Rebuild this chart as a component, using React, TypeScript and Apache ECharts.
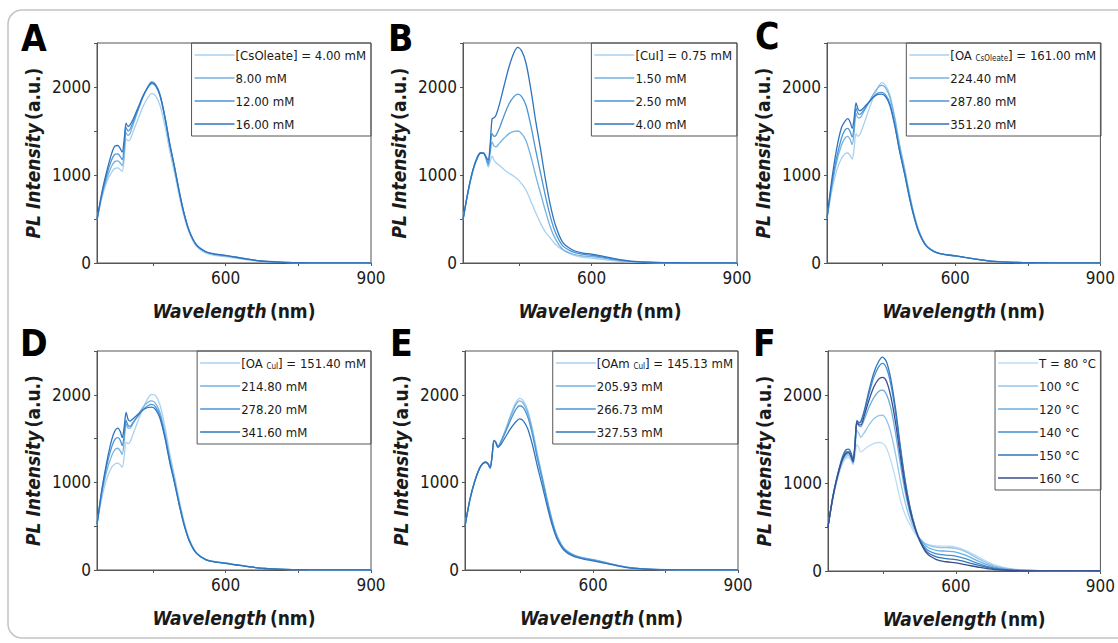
import React, { useEffect, useRef } from 'react';
import * as echarts from 'echarts';

// ---------- data ----------
const wavelengths = [335, 345, 355, 365, 372, 378, 383, 387, 391, 395, 399, 403, 410, 420, 430, 440, 448, 456, 465, 475, 485, 495, 505, 515, 525, 540, 560, 580, 600, 620, 650, 680, 720, 770, 830, 900];

const xTicks = [450, 600, 750, 900];
const xLabels = [600, 900];

const namesA = ['[CsOleate] = 4.00 mM', '8.00 mM', '12.00 mM', '16.00 mM'];
const a0 = [490, 740, 920, 1030, 1075, 1080, 1060, 1040, 1180, 1410, 1390, 1400, 1500, 1640, 1780, 1880, 1925, 1900, 1790, 1560, 1270, 1020, 750, 520, 345, 190, 112, 85, 72, 56, 33, 16, 6, 2, 1, 0];
const a1 = [490, 760, 960, 1100, 1155, 1160, 1135, 1105, 1250, 1480, 1450, 1470, 1580, 1740, 1890, 2005, 2060, 2030, 1915, 1670, 1360, 1090, 805, 555, 370, 205, 122, 95, 80, 63, 38, 18, 7, 3, 1, 0];
const a2 = [490, 780, 1000, 1170, 1235, 1240, 1210, 1175, 1320, 1540, 1500, 1520, 1610, 1750, 1890, 1995, 2040, 2010, 1900, 1650, 1345, 1080, 795, 550, 365, 205, 125, 98, 84, 66, 40, 19, 8, 3, 1, 0];
const a3 = [490, 800, 1040, 1240, 1330, 1335, 1300, 1260, 1400, 1590, 1550, 1570, 1640, 1770, 1900, 2000, 2050, 2020, 1905, 1660, 1350, 1085, 800, 552, 368, 205, 128, 100, 86, 68, 40, 20, 8, 3, 1, 0];

const namesB = ['[CuI] = 0.75 mM', '1.50 mM', '2.50 mM', '4.00 mM'];
const b0 = [490, 790, 1030, 1200, 1250, 1245, 1170, 1090, 1150, 1215, 1170, 1140, 1110, 1060, 1020, 985, 950, 900, 830, 700, 570, 450, 350, 285, 215, 150, 95, 68, 55, 42, 25, 12, 5, 2, 1, 0];
const b1 = [490, 800, 1040, 1210, 1255, 1250, 1180, 1110, 1250, 1375, 1330, 1320, 1360, 1420, 1470, 1495, 1500, 1470, 1390, 1210, 990, 790, 590, 410, 280, 160, 105, 82, 72, 58, 33, 16, 6, 2, 1, 0];
const b2 = [490, 800, 1050, 1210, 1255, 1250, 1190, 1130, 1300, 1470, 1440, 1450, 1530, 1680, 1810, 1890, 1920, 1890, 1790, 1560, 1280, 1020, 760, 530, 355, 200, 130, 100, 88, 70, 40, 19, 8, 3, 1, 0];
const b3 = [490, 800, 1050, 1200, 1250, 1245, 1200, 1170, 1350, 1640, 1650, 1680, 1800, 2020, 2230, 2390, 2450, 2410, 2270, 1970, 1610, 1290, 950, 660, 440, 240, 150, 115, 100, 80, 46, 22, 9, 3, 1, 0];

const namesC = ['[OA CsOleate] = 161.00 mM', '224.40 mM', '287.80 mM', '351.20 mM'];
const c0 = [510, 820, 1050, 1190, 1240, 1250, 1220, 1180, 1300, 1470, 1440, 1460, 1560, 1720, 1870, 1990, 2050, 2020, 1910, 1660, 1350, 1090, 800, 555, 370, 205, 125, 98, 83, 65, 39, 19, 7, 3, 1, 0];
const c1 = [510, 870, 1150, 1340, 1420, 1440, 1400, 1345, 1480, 1700, 1650, 1650, 1710, 1810, 1910, 1990, 2020, 1990, 1880, 1640, 1330, 1070, 790, 545, 360, 200, 122, 96, 81, 64, 38, 18, 7, 3, 1, 0];
const c2 = [510, 900, 1200, 1420, 1510, 1530, 1490, 1430, 1560, 1760, 1700, 1690, 1730, 1810, 1880, 1930, 1940, 1910, 1810, 1575, 1280, 1030, 760, 525, 350, 195, 120, 95, 80, 63, 38, 18, 7, 3, 1, 0];
const c3 = [510, 950, 1300, 1540, 1610, 1640, 1600, 1530, 1640, 1820, 1750, 1730, 1760, 1820, 1880, 1915, 1920, 1890, 1790, 1560, 1270, 1020, 750, 520, 345, 195, 120, 95, 80, 63, 38, 18, 7, 3, 1, 0];

const namesD = ['[OA CuI] = 151.40 mM', '214.80 mM', '278.20 mM', '341.60 mM'];
const d0 = [520, 820, 1040, 1170, 1210, 1220, 1200, 1175, 1290, 1460, 1440, 1460, 1560, 1710, 1850, 1960, 2005, 1990, 1880, 1640, 1330, 1070, 790, 545, 360, 200, 120, 94, 80, 62, 37, 18, 7, 3, 1, 0];
const d1 = [520, 870, 1130, 1300, 1375, 1390, 1360, 1320, 1470, 1670, 1620, 1620, 1680, 1770, 1860, 1915, 1930, 1900, 1795, 1565, 1275, 1020, 755, 520, 345, 195, 118, 92, 78, 61, 37, 17, 7, 3, 1, 0];
const d2 = [520, 900, 1190, 1400, 1490, 1510, 1480, 1420, 1540, 1710, 1650, 1640, 1690, 1760, 1830, 1875, 1890, 1860, 1760, 1530, 1250, 1000, 740, 510, 340, 192, 116, 91, 77, 60, 36, 17, 7, 3, 1, 0];
const d3 = [520, 920, 1230, 1480, 1590, 1620, 1580, 1510, 1630, 1800, 1720, 1700, 1730, 1780, 1830, 1855, 1860, 1830, 1730, 1510, 1230, 990, 730, 505, 335, 190, 115, 90, 76, 60, 36, 17, 7, 3, 1, 0];

const namesE = ['[OAm CuI] = 145.13 mM', '205.93 mM', '266.73 mM', '327.53 mM'];
const e0 = [500, 800, 1010, 1160, 1215, 1230, 1210, 1165, 1300, 1480, 1460, 1410, 1480, 1620, 1780, 1910, 1960, 1930, 1820, 1600, 1320, 1070, 810, 580, 400, 250, 175, 140, 120, 95, 55, 25, 9, 3, 1, 0];
const e1 = [500, 800, 1010, 1160, 1215, 1230, 1210, 1165, 1300, 1480, 1460, 1410, 1475, 1610, 1760, 1885, 1930, 1900, 1790, 1575, 1300, 1055, 800, 570, 395, 245, 170, 137, 118, 93, 54, 24, 9, 3, 1, 0];
const e2 = [500, 800, 1010, 1160, 1215, 1230, 1210, 1165, 1300, 1480, 1455, 1405, 1470, 1590, 1720, 1830, 1875, 1850, 1745, 1535, 1265, 1030, 780, 555, 385, 240, 165, 133, 113, 89, 52, 23, 8, 3, 1, 0];
const e3 = [500, 800, 1010, 1160, 1215, 1230, 1210, 1165, 1300, 1475, 1450, 1400, 1440, 1530, 1620, 1690, 1725, 1700, 1610, 1420, 1180, 960, 730, 520, 360, 225, 155, 125, 105, 82, 48, 21, 8, 3, 1, 0];

const namesF = ['T = 80 °C', '100 °C', '120 °C', '140 °C', '150 °C', '160 °C'];
const f0 = [500, 820, 1050, 1220, 1280, 1290, 1255, 1210, 1310, 1440, 1400, 1350, 1380, 1420, 1450, 1460, 1455, 1400, 1260, 1050, 810, 640, 525, 430, 360, 305, 285, 282, 272, 235, 150, 70, 22, 6, 1, 0];
const f1 = [500, 830, 1070, 1240, 1300, 1310, 1270, 1220, 1380, 1600, 1560, 1520, 1570, 1660, 1730, 1765, 1770, 1720, 1580, 1330, 1030, 780, 590, 460, 370, 300, 270, 265, 258, 220, 130, 58, 18, 5, 1, 0];
const f2 = [500, 830, 1080, 1260, 1320, 1330, 1290, 1235, 1420, 1680, 1650, 1640, 1720, 1860, 1970, 2040, 2055, 2010, 1860, 1570, 1220, 900, 660, 490, 370, 275, 235, 225, 215, 180, 105, 45, 14, 4, 1, 0];
const f3 = [500, 840, 1090, 1280, 1350, 1360, 1320, 1250, 1440, 1700, 1680, 1690, 1800, 2010, 2200, 2320, 2360, 2310, 2130, 1800, 1390, 1010, 720, 510, 360, 245, 195, 180, 170, 140, 80, 33, 10, 3, 1, 0];
const f4 = [500, 850, 1100, 1300, 1375, 1385, 1340, 1260, 1450, 1710, 1690, 1700, 1820, 2050, 2250, 2380, 2430, 2380, 2190, 1850, 1420, 1030, 730, 510, 355, 220, 160, 140, 130, 105, 60, 25, 8, 2, 1, 0];
const f5 = [500, 830, 1080, 1270, 1335, 1345, 1300, 1240, 1430, 1690, 1660, 1660, 1760, 1940, 2090, 2180, 2200, 2160, 1990, 1690, 1310, 960, 690, 490, 345, 200, 130, 105, 92, 72, 40, 16, 5, 2, 1, 0];

// ---------- styling ----------
const FONT = '"DejaVu Sans Condensed", "Liberation Sans Narrow", "Liberation Sans", sans-serif';
const COLORS4 = ['#a9d0ef', '#74b2e2', '#4c95d3', '#2f74bd'];
const COLORS6 = ['#bcdcf3', '#94c6eb', '#6baee0', '#428fd2', '#3174b8', '#3c4d8c'];
const W = 1118;
const H = 643;

const panels = [
  { letter: 'A', lx: 21, ly: 38, names: namesA, series: [a0, a1, a2, a3], colors: COLORS4, g: { left: 97, top: 43, width: 274, height: 220 } },
  { letter: 'B', lx: 388, ly: 38, names: namesB, series: [b0, b1, b2, b3], colors: COLORS4, g: { left: 463, top: 43, width: 274, height: 220 } },
  { letter: 'C', lx: 755, ly: 36, names: namesC, series: [c0, c1, c2, c3], colors: COLORS4, g: { left: 827, top: 43, width: 274, height: 220 } },
  { letter: 'D', lx: 20, ly: 343, names: namesD, series: [d0, d1, d2, d3], colors: COLORS4, g: { left: 97, top: 351, width: 274, height: 219 } },
  { letter: 'E', lx: 390, ly: 343, names: namesE, series: [e0, e1, e2, e3], colors: COLORS4, g: { left: 465, top: 351, width: 273, height: 219 } },
  { letter: 'F', lx: 753, ly: 343, names: namesF, series: [f0, f1, f2, f3, f4, f5], colors: COLORS6, g: { left: 828, top: 351, width: 273, height: 220 } },
];

function buildOption() {
  const textColor = '#1a1a1a';
  const axisColor = '#555';
  const titleSize = 19;
  const grid = panels.map((p) => ({ ...p.g, show: true, borderColor: axisColor, borderWidth: 1, containLabel: false }));
  const xAxis = panels.map((p, i) => ({
    type: 'value',
    gridIndex: i,
    min: 335,
    max: 900,
    splitLine: { show: false },
    axisLine: { show: true, lineStyle: { color: axisColor, width: 1 } },
    axisTick: { show: true, customValues: xTicks, length: 3, lineStyle: { color: axisColor } },
    axisLabel: { customValues: xLabels, fontSize: 17, color: textColor, fontFamily: FONT, margin: 6 },
    name: '{i|Wavelength} {n|(nm)}',
    nameLocation: 'middle',
    nameGap: 38,
    nameTextStyle: {
      rich: {
        i: { fontSize: titleSize, fontWeight: 'bold', fontStyle: 'italic', fontFamily: FONT, color: textColor },
        n: { fontSize: titleSize, fontWeight: 'bold', fontFamily: FONT, color: textColor },
      },
    },
  }));
  const yAxis = panels.map((p, i) => ({
    type: 'value',
    gridIndex: i,
    min: 0,
    max: 2500,
    interval: 500,
    splitLine: { show: false },
    axisLine: { show: true, lineStyle: { color: axisColor, width: 1 } },
    axisTick: { show: true, length: 3, lineStyle: { color: axisColor } },
    axisLabel: {
      fontSize: 17,
      color: textColor,
      fontFamily: FONT,
      margin: 6,
      formatter: (v: number) => (v % 1000 === 0 ? String(v) : ''),
    },
    name: '{i|PL Intensity} {n|(a.u.)}',
    nameLocation: 'middle',
    nameGap: 55,
    nameTextStyle: {
      rich: {
        i: { fontSize: titleSize, fontWeight: 'bold', fontStyle: 'italic', fontFamily: FONT, color: textColor },
        n: { fontSize: titleSize, fontWeight: 'bold', fontFamily: FONT, color: textColor },
      },
    },
  }));
  const series: any[] = [];
  panels.forEach((p, i) => {
    p.series.forEach((vals, k) => {
      series.push({
        type: 'line',
        name: p.names[k],
        xAxisIndex: i,
        yAxisIndex: i,
        data: wavelengths.map((w, j) => [w, vals[j]]),
        symbol: 'none',
        smooth: 0.3,
        lineStyle: { color: p.colors[k], width: 1.3 },
        itemStyle: { color: p.colors[k] },
        z: 2 + k,
      });
    });
  });
  const legend = panels.map((p) => ({
    data: p.names,
    orient: 'vertical',
    right: W - (p.g.left + p.g.width),
    top: p.g.top,
    icon: 'rect',
    itemWidth: 40,
    itemHeight: 1.6,
    itemGap: 9,
    padding: [5, 5, 5, 3],
    borderColor: axisColor,
    borderWidth: 1,
    selectedMode: false,
    textStyle: {
      fontSize: 13,
      lineHeight: 14,
      fontFamily: FONT,
      color: textColor,
      padding: [0, 0, 0, -4],
      rich: {
        sub: { fontSize: 8, fontFamily: FONT, color: textColor, verticalAlign: 'bottom', padding: [6, 0, 0, 0] },
      },
    },
    formatter: (name: string) => name.replace(/^\[(OAm?) (\w+)\]/, '[$1 {sub|$2}]'),
  }));
  const graphic: any[] = [
    {
      type: 'rect',
      shape: { x: 8, y: 10, width: 1130, height: 628, r: 14 },
      style: { fill: 'none', stroke: '#c4c4c4', lineWidth: 1.5 },
      silent: true,
    },
    ...panels.map((p) => ({
      type: 'text',
      x: p.lx,
      y: p.ly,
      style: {
        text: p.letter,
        fontSize: 37,
        fontWeight: 'bold',
        fontFamily: FONT,
        fill: '#000',
        verticalAlign: 'middle',
        align: 'left',
      },
    })),
  ];
  return {
    animation: false,
    backgroundColor: '#fff',
    grid,
    xAxis,
    yAxis,
    series,
    legend,
    graphic,
  };
}

export default function App() {
  const ref = useRef<HTMLDivElement>(null);
  useEffect(() => {
    if (!ref.current) return;
    const chart = echarts.init(ref.current, null, { renderer: 'svg' });
    chart.setOption(buildOption() as any);
    return () => chart.dispose();
  }, []);
  return <div ref={ref} style={{ position: 'fixed', left: 0, top: 0, width: W, height: H }} />;
}
